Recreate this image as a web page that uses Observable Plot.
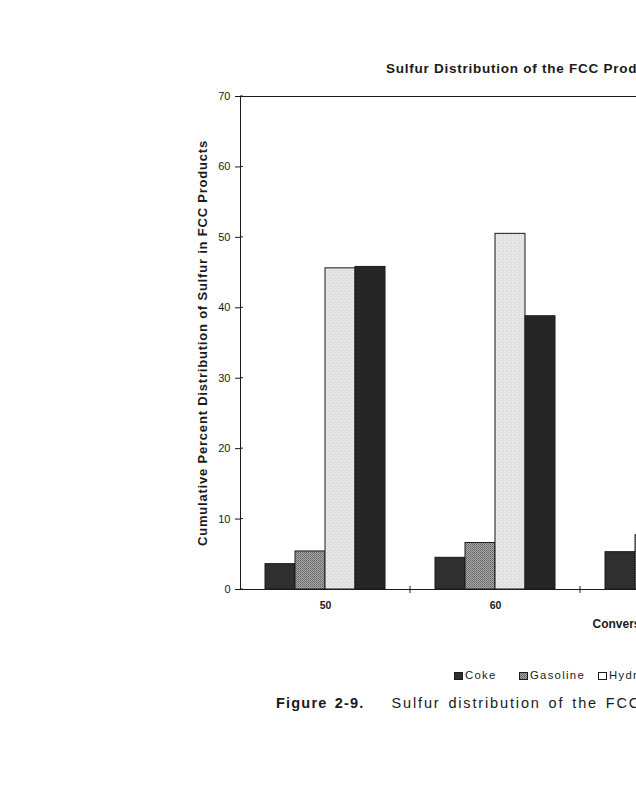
<!DOCTYPE html>
<html><head><meta charset="utf-8">
<script src="https://cdn.jsdelivr.net/npm/d3@7"></script>
<script src="https://cdn.jsdelivr.net/npm/@observablehq/plot@0.6"></script>
<style>
html,body{margin:0;padding:0;background:#fff;overflow:hidden;}
#wrap{position:relative;width:1100px;height:800px;font-family:"Liberation Sans",Arial,Helvetica,sans-serif;color:#1a1a1a;}
#title{position:absolute;left:386px;top:62px;font-weight:bold;font-size:13.5px;line-height:1;white-space:nowrap;letter-spacing:0.75px;}
#chart{position:absolute;left:0;top:80px;}
.leg{position:absolute;top:670px;font-size:11.3px;line-height:1;white-space:nowrap;letter-spacing:1.3px;display:flex;align-items:center;}
.sw{display:inline-block;width:9px;height:8px;margin-right:2px;box-sizing:border-box;border:1px solid #1a1a1a;}
#caption{position:absolute;left:276px;top:696px;font-size:14.5px;line-height:1;white-space:nowrap;letter-spacing:1.85px;word-spacing:2px;}
#caption b{letter-spacing:1.2px;margin-right:27px;}
</style>
</head><body>
<div id="wrap">
  <div id="title"></div>
  <div id="chart"></div>
  <div id="legend"></div>
  <div id="caption"></div>
</div>
<script>
// ---- data ----
const conversions = ["50", "60", "70"];
const series = ["Coke", "Gasoline", "Hydrogen Sulfide", "LCO & Bottoms"];
const coke = [3.6, 4.5, 5.3];
const gasoline = [5.4, 6.6, 7.7];
const hydrogenSulfide = [45.6, 50.5, 53.5];
const lcoBottoms = [45.8, 38.8, 32.5];
const yTicks = [0, 10, 20, 30, 40, 50, 60, 70];
const titleText = "Sulfur Distribution of the FCC Products";
const yLabel = "Cumulative Percent Distribution of Sulfur in FCC Products";
const xLabel = "Conversion, Vol%";
const captionLabel = "Figure 2-9.";
const captionText = "Sulfur distribution of the FCC products.";

const values = [coke, gasoline, hydrogenSulfide, lcoBottoms];
const data = conversions.flatMap((c, i) => series.map((s, j) => ({conv: c, series: s, value: values[j][i]})));

const fills = ["#2f2f2f", "url(#patGas)", "url(#patH2S)", "#262626"];

const plot = Plot.plot({
  width: 780, height: 560,
  marginLeft: 240, marginRight: 30, marginTop: 16, marginBottom: 51,
  style: {fontFamily: "'Liberation Sans', Arial, sans-serif", color: "#1a1a1a", background: "white"},
  fx: {domain: conversions, padding: 0, label: null},
  x: {domain: series, paddingInner: 0, paddingOuter: 0.742, axis: null},
  y: {domain: [0, 70], label: null},
  color: {domain: series, range: fills},
  marks: [
    Plot.barY(data, {fx: "conv", x: "series", y: "value", fill: "series", stroke: "#1a1a1a", strokeWidth: 1}),
    Plot.frame({stroke: "#1a1a1a", strokeWidth: 1, facet: "super"}),
    Plot.axisY({ticks: yTicks, tickSize: 5, tickPadding: 5, fontSize: 11, label: null}),
    Plot.axisFx({anchor: "bottom", tickSize: 0, tickPadding: 12, fontSize: 10.5, fontWeight: "bold", label: null}),
    Plot.text([yLabel], {frameAnchor: "left", rotate: -90, dx: -38, fontSize: 13, fontWeight: "bold", textAnchor: "middle", facet: "super", style: "letter-spacing:0.8px"}),
    Plot.text([xLabel], {frameAnchor: "bottom-left", dx: 352, dy: 38, lineAnchor: "bottom", textAnchor: "start", fontSize: 12, fontWeight: "bold", facet: "super"})
  ]
});

// patterns
const svg = d3.select(plot);
const defs = svg.insert("defs", ":first-child");
const pg = defs.append("pattern").attr("id", "patGas").attr("width", 2).attr("height", 2).attr("patternUnits", "userSpaceOnUse");
pg.append("rect").attr("width", 2).attr("height", 2).attr("fill", "#a8a8a8");
pg.append("rect").attr("width", 1).attr("height", 1).attr("fill", "#666");
pg.append("rect").attr("x", 1).attr("y", 1).attr("width", 1).attr("height", 1).attr("fill", "#777");
const ph = defs.append("pattern").attr("id", "patH2S").attr("width", 4).attr("height", 4).attr("patternUnits", "userSpaceOnUse");
ph.append("rect").attr("width", 4).attr("height", 4).attr("fill", "#e6e6e6");
ph.append("rect").attr("x", 1).attr("y", 2).attr("width", 1).attr("height", 1).attr("fill", "#c8c8c8");
ph.append("rect").attr("x", 3).attr("y", 0).attr("width", 1).attr("height", 1).attr("fill", "#d2d2d2");

// y-label letter spacing (style on the text elements)
svg.selectAll("text").filter(function() { return this.textContent === yLabel; }).attr("letter-spacing", 0.8);

const fxs = plot.scale("fx");
const ys = plot.scale("y");
const y0 = ys.apply(0);
const xLeft = fxs.apply(conversions[0]);
// y tick marks crossing slightly into the plot
yTicks.forEach(t => {
  const ty = ys.apply(t);
  svg.append("line").attr("x1", xLeft).attr("x2", xLeft + 3).attr("y1", ty).attr("y2", ty)
    .attr("stroke", "#1a1a1a").attr("stroke-width", 1);
});
// group boundary ticks on the x axis
conversions.forEach(c => {
  const bx = fxs.apply(c) + fxs.bandwidth;
  svg.append("line").attr("x1", bx).attr("x2", bx).attr("y1", y0 - 3).attr("y2", y0 + 4)
    .attr("stroke", "#1a1a1a").attr("stroke-width", 1);
});

document.getElementById("chart").appendChild(plot);
document.getElementById("title").textContent = titleText;

// legend
const legendLeft = [454, 519, 598, 730];
const swatchStyle = ["background:#2f2f2f", "background:repeating-conic-gradient(#666 0 25%, #aaa 0 50%) 0 0/2px 2px", "background:#fff", "background:#262626"];
const legend = document.getElementById("legend");
series.forEach((s, i) => {
  const item = document.createElement("div");
  item.className = "leg";
  item.style.left = legendLeft[i] + "px";
  const sw = document.createElement("span");
  sw.className = "sw";
  sw.style.cssText = swatchStyle[i];
  item.appendChild(sw);
  item.appendChild(document.createTextNode(s));
  legend.appendChild(item);
});

const cap = document.getElementById("caption");
const b = document.createElement("b");
b.textContent = captionLabel;
cap.appendChild(b);
cap.appendChild(document.createTextNode(captionText));
</script>
</body></html>
